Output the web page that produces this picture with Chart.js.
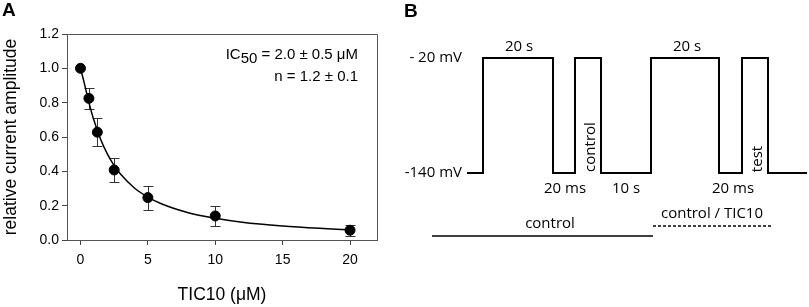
<!DOCTYPE html>
<html>
<head>
<meta charset="utf-8">
<script src="https://cdn.jsdelivr.net/npm/chart.js@4.4.1/dist/chart.umd.min.js"></script>
<style>
html, body { margin: 0; padding: 0; background: #fff; }
#wrap { position: relative; width: 809px; height: 307px; overflow: hidden; }
canvas { position: absolute; top: 0; }
#chartA { left: 0; }
#chartB { left: 400px; }
</style>
</head>
<body>
<div id="wrap">
  <canvas id="chartA" width="400" height="307"></canvas>
  <canvas id="chartB" width="409" height="307"></canvas>
</div>
<script>
// ---- panel A: concentration response ----
var concentrations = [0, 0.625, 1.25, 2.5, 5, 10, 20];
var amplitudes = [1.0, 0.825, 0.628, 0.408, 0.247, 0.14, 0.057];
var amplitudeErrors = [0, 0.063, 0.083, 0.07, 0.07, 0.056, 0.031];
// fitted curve
var fitX = [0, 0.25, 0.5, 0.75, 1, 1.5, 2, 2.5, 3, 4, 5, 6, 8, 10, 12, 15, 18, 20];
var fitY = [1.0, 0.924, 0.841, 0.764, 0.697, 0.585, 0.5, 0.433, 0.381, 0.303, 0.25, 0.211, 0.159, 0.127, 0.104, 0.082, 0.067, 0.059];
var xTicks = [0, 5, 10, 15, 20];
var yTicks = [0, 0.2, 0.4, 0.6, 0.8, 1.0, 1.2];

// ---- panel B: voltage protocol (schematic time units) ----
var stepTimes = [6.7, 8.3, 15.3, 17.5, 20.1, 25.1, 31.9, 34.2, 36.8, 40.7];
var stepVolts = [-140, -20, -140, -20, -140, -20, -140, -20, -140, -140];
var controlBarT = [3.2, 25.3];
var controlBarV = -205.7;
var drugBarT = [25.3, 37.1];
var drugBarV = -195.3;
var protoText = ['- 20 mV', '-140 mV', '20 s', '20 s', '20 ms', '10 s', '20 ms', 'control', 'test', 'control', 'control / TIC10'];
var protoT = [6.2, 6.2, 11.9, 28.7, 16.5, 22.6, 33.3, 19.1, 35.8, 15.0, 31.2];
var protoV = [-20, -140, -8.5, -8.5, -156.7, -156.7, -156.7, -112.9, -125.4, -193.2, -182.8];
var protoAlign = ['right', 'right', 'center', 'center', 'center', 'center', 'center', 'center', 'center', 'center', 'center'];
var protoRot = [0, 0, 0, 0, 0, 0, 0, 1, 1, 0, 0];

var fontA = '"Liberation Sans", Arial, sans-serif';
var fontB = '"Open Sans", sans-serif';

var framePlugin = {
    id: 'frame',
    afterDraw: (chart) => {
        const ctx = chart.ctx, a = chart.chartArea;
        ctx.save();
        ctx.strokeStyle = '#555';
        ctx.lineWidth = 1;
        ctx.beginPath();
        ctx.moveTo(a.left, a.top + 0.5);
        ctx.lineTo(a.right + 0.5, a.top + 0.5);
        ctx.lineTo(a.right + 0.5, a.bottom);
        ctx.stroke();
        // panel letter
        ctx.fillStyle = '#000';
        ctx.font = 'bold 19px ' + fontA;
        ctx.textBaseline = 'alphabetic';
        ctx.fillText('A', 2, 16);
        // fit parameters
        ctx.font = '15px ' + fontA;
        var right = 358;
        var p1 = 'IC', p2 = '50', p3 = ' = 2.0 \u00b1 0.5 \u03bcM';
        var w = ctx.measureText(p1).width + ctx.measureText(p2).width + ctx.measureText(p3).width;
        var x = right - w;
        ctx.fillText(p1, x, 59); x += ctx.measureText(p1).width;
        ctx.fillText(p2, x, 63); x += ctx.measureText(p2).width;
        ctx.fillText(p3, x, 59);
        ctx.textAlign = 'right';
        ctx.fillText('n = 1.2 \u00b1 0.1', right, 81);
        ctx.restore();
    }
};

var errorBarPlugin = {
    id: 'errorBars',
    beforeDatasetsDraw: (chart) => {
        const ctx = chart.ctx, xs = chart.scales.x, ys = chart.scales.y;
        ctx.save();
        ctx.strokeStyle = '#333';
        ctx.lineWidth = 1;
        for (let i = 0; i < concentrations.length; i++) {
            if (!amplitudeErrors[i]) continue;
            const px = Math.round(xs.getPixelForValue(concentrations[i])) + 0.5;
            const top = Math.round(ys.getPixelForValue(amplitudes[i] + amplitudeErrors[i])) + 0.5;
            const bot = Math.round(ys.getPixelForValue(amplitudes[i] - amplitudeErrors[i])) + 0.5;
            ctx.beginPath();
            ctx.moveTo(px, top); ctx.lineTo(px, bot);
            ctx.moveTo(px - 5, top); ctx.lineTo(px + 5, top);
            ctx.moveTo(px - 5, bot); ctx.lineTo(px + 5, bot);
            ctx.stroke();
        }
        ctx.restore();
    }
};

var chartA = new Chart(document.getElementById('chartA'), {
    type: 'scatter',
    data: {
        datasets: [
            {
                label: 'data',
                data: concentrations.map((c, i) => ({x: c, y: amplitudes[i]})),
                backgroundColor: '#000',
                borderColor: '#000',
                pointRadius: 5,
                order: 0
            },
            {
                label: 'fit',
                type: 'line',
                data: fitX.map((c, i) => ({x: c, y: fitY[i]})),
                borderColor: '#000',
                borderWidth: 1.5,
                pointRadius: 0,
                cubicInterpolationMode: 'monotone',
                fill: false,
                order: 1
            }
        ]
    },
    options: {
        animation: false,
        responsive: false,
        layout: { padding: { top: 34, right: 23, left: 0, bottom: 0 } },
        plugins: { legend: { display: false }, tooltip: { enabled: false } },
        scales: {
            x: {
                type: 'linear',
                min: -1,
                max: 22,
                afterFit: (s) => { s.height = 67; },
                afterBuildTicks: (s) => { s.ticks = xTicks.map(v => ({value: v})); },
                grid: { drawOnChartArea: false, drawTicks: true, tickLength: 5, color: '#444' },
                border: { display: true, color: '#555', width: 1 },
                ticks: { color: '#000', padding: 7, font: { family: fontA, size: 14 }, maxRotation: 0 },
                title: { display: true, text: 'TIC10 (\u03bcM)', color: '#000', font: { family: fontA, size: 17.5 }, padding: { top: 0, bottom: 1 } }
            },
            y: {
                type: 'linear',
                min: 0,
                max: 1.2,
                afterFit: (s) => { s.width = 67; },
                afterBuildTicks: (s) => { s.ticks = yTicks.map(v => ({value: v})); },
                grid: { drawOnChartArea: false, drawTicks: true, tickLength: 5, color: '#444' },
                border: { display: true, color: '#555', width: 1 },
                ticks: { color: '#000', padding: 3, font: { family: fontA, size: 14 }, callback: (v) => Number(v).toFixed(1) },
                title: { display: true, text: 'relative current amplitude', color: '#000', font: { family: fontA, size: 17.5 }, padding: { top: 1, bottom: 0 } }
            }
        }
    },
    plugins: [errorBarPlugin, framePlugin]
});

var protoLabelPlugin = {
    id: 'protoLabels',
    afterDraw: (chart) => {
        const ctx = chart.ctx, xs = chart.scales.x, ys = chart.scales.y;
        ctx.save();
        ctx.fillStyle = '#000';
        ctx.font = 'bold 19px ' + fontA;
        ctx.textBaseline = 'alphabetic';
        ctx.fillText('B', 4, 17);
        ctx.font = '15px ' + fontB;
        ctx.textBaseline = 'middle';
        for (let i = 0; i < protoText.length; i++) {
            const px = xs.getPixelForValue(protoT[i]);
            const py = ys.getPixelForValue(protoV[i]);
            ctx.save();
            ctx.translate(px, py);
            if (protoRot[i]) ctx.rotate(-Math.PI / 2);
            ctx.textAlign = protoAlign[i];
            ctx.fillText(protoText[i], 0, 0);
            ctx.restore();
        }
        ctx.restore();
    }
};

var chartB = new Chart(document.getElementById('chartB'), {
    type: 'line',
    data: {
        datasets: [
            {
                label: 'protocol',
                data: stepTimes.map((t, i) => ({x: t, y: stepVolts[i]})),
                borderColor: '#000',
                borderWidth: 2,
                pointRadius: 0,
                stepped: 'before',
                fill: false
            },
            {
                label: 'control',
                data: controlBarT.map(t => ({x: t, y: controlBarV})),
                borderColor: '#000',
                borderWidth: 1.5,
                pointRadius: 0,
                fill: false
            },
            {
                label: 'control / TIC10',
                data: drugBarT.map(t => ({x: t, y: drugBarV})),
                borderColor: '#000',
                borderWidth: 1.5,
                borderDash: [3, 2],
                pointRadius: 0,
                fill: false
            }
        ]
    },
    options: {
        animation: false,
        responsive: false,
        layout: { padding: 0 },
        plugins: { legend: { display: false }, tooltip: { enabled: false } },
        scales: {
            x: { type: 'linear', display: false, min: 0, max: 40.9 },
            y: { type: 'linear', display: false, min: -279.8, max: 40.5 }
        }
    },
    plugins: [protoLabelPlugin]
});
</script>
</body>
</html>
